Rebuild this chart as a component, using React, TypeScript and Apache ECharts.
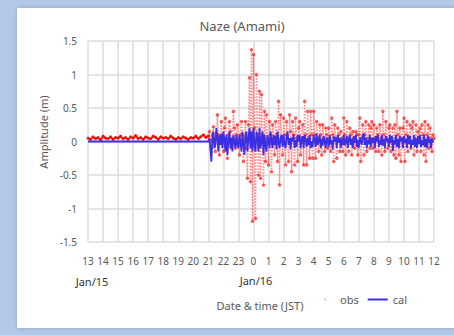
import React, { useEffect, useRef } from "react";
import * as echarts from "echarts";

// Hour-of-day tick labels (13:00 Jan/15 .. 12:00 Jan/16)
const hourTicks = [13, 14, 15, 16, 17, 18, 19, 20, 21, 22, 23, 0, 1, 2, 3, 4, 5, 6, 7, 8, 9, 10, 11, 12];
const yTicks = [-1.5, -1, -0.5, 0, 0.5, 1, 1.5];

// obs, quiet part: every 10 min from 13:00 to 20:50
const obsQuiet = [
  0.05, 0.03, 0.07, 0.04, 0.06, 0.02, 0.08, 0.05, 0.04, 0.07, 0.03, 0.06,
  0.05, 0.08, 0.04, 0.06, 0.03, 0.07, 0.05, 0.09, 0.04, 0.06, 0.03, 0.07,
  0.05, 0.04, 0.08, 0.06, 0.03, 0.07, 0.05, 0.06, 0.04, 0.08, 0.05, 0.03,
  0.06, 0.04, 0.07, 0.05, 0.03, 0.06, 0.05, 0.08, 0.04, 0.07, 0.1, 0.06,
];

// obs, active part: every 4 min from 21:00 to 12:00 (next day)
const obsActive = [
  0.08, 0.15, 0.02, -0.1, 0.1, 0.22, 0.05, -0.15, 0.12, 0.4, 0.1, -0.2, 0.05, 0.3, 0.0,
  -0.15, 0.2, 0.35, 0.05, -0.25, 0.1, 0.3, 0.15, -0.1, 0.05, 0.45, 0.2, -0.1, 0.1, 0.25,
  0.05, -0.2, 0.1, 0.3, 0.1, -0.3, 0.05, 0.3, -0.1, -0.55, 0.25, 0.95, -0.6, 1.37, -1.19,
  1.3, 0.2, -1.15, 1.0, 0.1, -0.5, 0.75, -0.55, 0.7, 0.1, -0.65, 0.45, -0.3, 0.4, 0.05,
  -0.35, 0.3, 0.1, -0.45, 0.25, 0.05, -0.2, 0.3, 0.1, -0.3, 0.6, -0.65, 0.4, 0.05, -0.2,
  0.35, 0.1, -0.35, 0.3, 0.05, -0.3, 0.4, 0.15, -0.45, 0.3, 0.1, -0.35, 0.35, 0.05, -0.3,
  0.2, 0.3, -0.2, 0.05, 0.25, -0.35, 0.6, 0.1, -0.35, 0.45, 0.05, -0.25, 0.45, 0.1, -0.25,
  0.45, 0.1, -0.25, 0.3, 0.05, -0.15, 0.25, 0.1, -0.2, 0.25, 0.05, -0.15, 0.2, 0.1, -0.1,
  0.2, 0.05, -0.15, 0.35, 0.1, -0.3, 0.25, 0.05, -0.25, 0.2, 0.1, -0.15, 0.15, 0.05, -0.15,
  0.35, 0.1, -0.2, 0.3, 0.05, -0.15, 0.2, 0.1, -0.2, 0.15, 0.05, -0.1, 0.15, 0.1, -0.2,
  0.1, 0.35, -0.3, 0.05, 0.25, -0.2, 0.1, 0.3, -0.15, 0.05, 0.25, -0.1, 0.2, 0.3, -0.1,
  0.25, 0.05, -0.15, 0.2, 0.1, -0.15, 0.25, 0.05, -0.2, 0.45, 0.1, -0.15, 0.3, 0.05, -0.1,
  0.2, 0.25, -0.15, 0.05, 0.2, -0.2, 0.25, -0.25, 0.45, 0.1, -0.2, 0.2, -0.3, 0.05, 0.2,
  0.35, -0.3, 0.1, 0.3, -0.15, 0.05, 0.25, -0.1, 0.2, 0.3, -0.2, 0.05, 0.25, -0.15, 0.15,
  0.05, 0.2, -0.15, 0.25, 0.1, -0.2, 0.3, -0.3, 0.1, 0.25, -0.1, 0.2, 0.05, -0.15, 0.1,
  0.05,
];

// cal, quiet part: hourly from 13:00 to 20:00
const calQuiet = [0, 0, 0, 0, 0, 0, 0, 0];

// cal, active part: every 4 min from 21:00 to 12:00 (next day)
const calActive = [
  0.0, 0.05, -0.1, -0.3, 0.05, 0.15, -0.1, -0.05, 0.2, 0.05, -0.15, 0.1, -0.05, 0.12, -0.1,
  0.15, 0.02, -0.15, 0.1, -0.2, 0.0, 0.15, -0.1, 0.05, -0.15, 0.1, 0.0, -0.1, 0.1, -0.05,
  -0.1, 0.1, 0.0, -0.15, 0.15, -0.05, -0.2, 0.1, 0.15, -0.15, 0.05, 0.2, -0.1, 0.15, -0.15,
  0.2, -0.05, -0.15, 0.15, 0.05, -0.15, 0.2, -0.1, 0.0, 0.15, -0.2, 0.1, -0.05, -0.15, 0.1,
  0.02, -0.1, 0.15, 0.0, -0.1, 0.1, -0.05, 0.08, -0.12, 0.15, 0.0, -0.1, 0.05, 0.1, -0.08,
  0.1, -0.05, -0.1, 0.08, 0.15, -0.05, 0.05, -0.12, 0.06, 0.0, 0.1, -0.1, 0.02, -0.08, 0.1,
  0.0, 0.1, -0.1, 0.02, 0.08, -0.1, 0.1, 0.02, -0.08, 0.05, -0.05, 0.1, -0.1, 0.0, -0.08,
  0.1, 0.02, -0.08, 0.12, -0.05, 0.0, 0.1, -0.1, 0.04, -0.06, 0.08, 0.0, -0.1, 0.06, 0.02,
  -0.08, 0.1, -0.04, 0.02, -0.12, 0.08, 0.0, 0.06, -0.1, 0.1, -0.02, 0.05, -0.1, 0.04, -0.05,
  0.1, -0.06, 0.0, 0.08, -0.1, 0.02, 0.1, -0.05, 0.04, -0.1, 0.08, -0.02, 0.1, -0.08, 0.02,
  -0.1, 0.06, 0.0, -0.05, 0.1, 0.12, -0.05, 0.06, -0.1, 0.02, -0.04, 0.1, -0.08, 0.06, -0.02,
  0.05, -0.1, 0.08, 0.0, 0.1, -0.08, 0.02, -0.05, 0.1, -0.06, 0.04, -0.1, 0.08, 0.0, 0.04,
  -0.08, 0.1, -0.02, 0.08, -0.14, 0.02, -0.04, 0.1, -0.08, 0.04, -0.1, 0.08, 0.0, 0.05, -0.1,
  0.08, -0.02, 0.04, -0.1, 0.1, -0.04, 0.08, -0.1, 0.02, -0.05, 0.1, -0.08, 0.04, -0.1, 0.08,
  -0.04, 0.1, -0.08, 0.02, -0.06, 0.1, -0.08, 0.04, -0.1, 0.08, -0.02, 0.04, -0.1, 0.04, 0.0,
  0.0,
];

const FONT = "'Noto Sans', 'Liberation Sans', sans-serif";
const GRAY = "#595959";

export default function App() {
  const ref = useRef<HTMLDivElement>(null);
  useEffect(() => {
    if (!ref.current) return;
    const chart = echarts.init(ref.current, undefined, { renderer: "svg" });

    const quietStart = 13;
    const activeStart = 21;
    const obsQ = obsQuiet.map((v, i) => [quietStart + (i * 10) / 60, v]);
    const obsA = obsActive.map((v, i) => [activeStart + (i * 4) / 60, v]);
    obsQ.push(obsA[0]);
    const calData = [
      ...calQuiet.map((v, i) => [quietStart + i, v]),
      ...calActive.map((v, i) => [activeStart + (i * 4) / 60, v]),
    ];

    chart.setOption({
      animation: false,
      backgroundColor: "#b4c7e7",
      textStyle: { fontFamily: FONT },
      title: {
        text: "Naze (Amami)",
        left: 237,
        top: 14,
        textAlign: "center",
        textStyle: { fontFamily: FONT, fontSize: 13, fontWeight: "normal", color: GRAY },
      },
      grid: { left: 88, right: 20, top: 41, bottom: 93, containLabel: false },
      legend: {
        left: 319,
        top: 289,
        itemWidth: 20,
        itemHeight: 2,
        itemGap: 9,
        textStyle: { fontFamily: FONT, fontSize: 11, color: GRAY },
        data: [
          { name: "obs", icon: "circle", itemStyle: { color: "rgba(255,150,150,0.8)" } },
          { name: "cal", icon: "rect", itemStyle: { color: "#3b2fe3" } },
        ],
      },
      xAxis: {
        type: "value",
        min: hourTicks[0],
        max: hourTicks[0] + hourTicks.length - 1,
        interval: 1,
        axisLine: { show: false },
        axisTick: { show: false },
        splitLine: { show: true, lineStyle: { color: "#dcdcdc", width: 1.5 } },
        axisLabel: {
          margin: 14,
          fontSize: 10,
          color: GRAY,
          fontFamily: FONT,
          formatter: (v: number) => String(hourTicks[Math.round(v - hourTicks[0])]),
        },
      },
      yAxis: {
        type: "value",
        min: yTicks[0],
        max: yTicks[yTicks.length - 1],
        interval: 0.5,
        axisLine: { show: false },
        axisTick: { show: false },
        splitLine: { show: true, lineStyle: { color: "#dcdcdc", width: 1.5 } },
        axisLabel: { margin: 11, fontSize: 10, color: GRAY, fontFamily: FONT },
      },
      graphic: [
        {
          type: "rect",
          z: -10,
          silent: true,
          shape: { x: 17, y: 8, width: 450, height: 320 },
          style: { fill: "#ffffff", shadowBlur: 4, shadowColor: "rgba(0,0,0,0.18)" },
        },
        {
          type: "text",
          x: 43.5,
          y: 132,
          rotation: Math.PI / 2,
          style: {
            text: "Amplitude (m)",
            fontFamily: FONT,
            fontSize: 11,
            fill: GRAY,
            align: "center",
            verticalAlign: "middle",
          },
        },
        {
          type: "text",
          x: 92,
          y: 281,
          style: { text: "Jan/15", fontFamily: FONT, fontSize: 11, fill: "#333333", align: "center", verticalAlign: "middle" },
        },
        {
          type: "text",
          x: 256,
          y: 280,
          style: { text: "Jan/16", fontFamily: FONT, fontSize: 11, fill: "#333333", align: "center", verticalAlign: "middle" },
        },
        {
          type: "text",
          x: 260,
          y: 305,
          style: { text: "Date & time (JST)", fontFamily: FONT, fontSize: 11, fill: GRAY, align: "center", verticalAlign: "middle" },
        },
      ],
      series: [
        {
          name: "obs",
          type: "line",
          data: obsQ,
          showSymbol: true,
          symbol: "circle",
          symbolSize: 3,
          itemStyle: { color: "rgba(255,0,0,0.8)" },
          lineStyle: { color: "rgba(255,0,0,0.9)", width: 2 },
          z: 2,
        },
        {
          name: "obs",
          type: "line",
          data: obsA,
          showSymbol: true,
          symbol: "circle",
          symbolSize: 3.5,
          itemStyle: { color: "rgba(240,20,20,0.65)" },
          lineStyle: { color: "rgba(255,40,40,0.55)", width: 1.5, type: "dotted" },
          z: 2,
        },
        {
          name: "cal",
          type: "line",
          data: calData,
          showSymbol: false,
          lineStyle: { color: "#3b2fe3", width: 1.8 },
          z: 3,
        },
      ],
    });
    return () => chart.dispose();
  }, []);

  return (
    <div
      ref={ref}
      style={{ position: "fixed", left: 0, top: 0, width: 454, height: 335 }}
    />
  );
}
